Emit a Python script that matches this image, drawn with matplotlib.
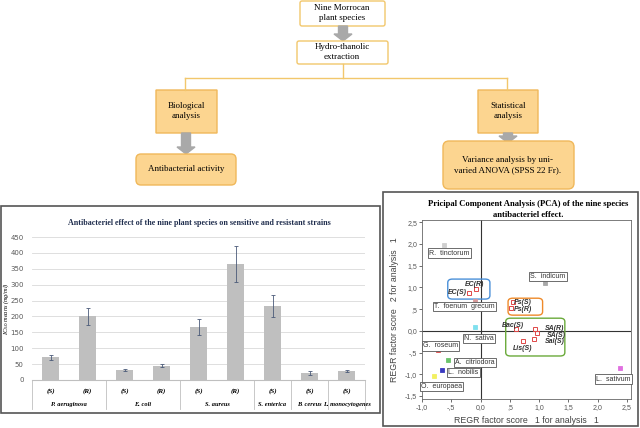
import matplotlib
matplotlib.use("Agg")
import matplotlib.pyplot as plt
import matplotlib.transforms as mtransforms
from matplotlib.patches import FancyBboxPatch, Rectangle, FancyArrow
from matplotlib.lines import Line2D

# ---- données : effet antibactérien (IC50) ----
strain_tags = ['(S)', '(R)', '(S)', '(R)', '(S)', '(R)', '(S)', '(S)', '(S)']
bacteria = ['P. aeruginosa', 'E. coli', 'S. aureus', 'S. enterica', 'B. cereus', 'L. monocytogenes']
bacteria_size = [2, 2, 2, 1, 1, 1]
ic50_mean = [72, 200, 32, 45, 167, 365, 233, 22, 28]
ic50_err = [8, 27, 4, 5, 25, 57, 35, 5, 4]

# ---- données : ACP ----
species = ['R. tinctorum', 'S. indicum', 'T. foenum grecum', 'N. sativa', 'G. roseum',
           'A. citriodora', 'L. nobilis', 'O. europaea', 'L. sativum']
species_x = [-0.62, 1.10, -0.10, -0.10, -0.73, -0.55, -0.65, -0.80, 2.38]
species_y = [1.98, 1.10, 0.68, 0.08, -0.45, -0.68, -0.90, -1.05, -0.85]
strains = ['EC(R)', 'EC(S)', 'Ps(S)', 'Ps(R)', 'Bac(S)', 'SA(R)', 'SA(S)', 'Sal(S)', 'Lis(S)']
strains_x = [-0.07, -0.20, 0.55, 0.52, 0.60, 0.93, 0.97, 0.92, 0.73]
strains_y = [0.97, 0.88, 0.67, 0.52, 0.05, 0.03, -0.04, -0.18, -0.24]

# style
species_colors = ['#cfcfcf', '#a8a8a8', '#d89a9a', '#7fe0ee', '#e05050',
                  '#6cc46c', '#3a3ac0', '#f2f060', '#e070e0']
species_lab_pos = [(-0.53, 1.79), (1.15, 1.24), (-0.28, 0.55), (-0.02, -0.17), (-0.68, -0.35),
                   (-0.10, -0.74), (-0.29, -0.97), (-0.67, -1.29), (2.27, -1.11)]
strains_lab_pos = [(-0.11, 1.07), (-0.40, 0.87), (0.72, 0.64), (0.72, 0.50), (0.55, 0.13),
                   (1.27, 0.06), (1.30, -0.10), (1.27, -0.24), (0.72, -0.40)]

serif = 'Liberation Serif'
sans = 'Liberation Sans'

fig = plt.figure(figsize=(6.4, 4.28), dpi=100)
fig.patch.set_facecolor('white')
# coordonnées en pixels (origine en haut à gauche)
px = mtransforms.Affine2D().scale(1 / 640, -1 / 428).translate(0, 1) + fig.transFigure


def box(x0, y0, x1, y1, fc, ec, r=2):
    p = FancyBboxPatch((x0, y0), x1 - x0, y1 - y0, boxstyle=f"round,pad=0,rounding_size={r}",
                       fc=fc, ec=ec, lw=1.0, transform=px)
    fig.add_artist(p)


def arrow(x, y0, y1):
    a = FancyArrow(x, y0, 0, y1 - y0, width=9, head_width=18, head_length=7,
                   length_includes_head=True, color='#a9a9a9', transform=px)
    fig.add_artist(a)


def ftext(x, y, s, **kw):
    fig.text(x, y, s, transform=px, ha='center', va='center', family=serif, **kw)


# ---- organigramme ----
line_c = '#f2c76c'
for xs, ys in [([343, 343], [64, 78]), ([185, 507], [78, 78]),
               ([185, 185], [78, 90]), ([507, 507], [78, 90])]:
    fig.add_artist(Line2D(xs, ys, color=line_c, lw=1, transform=px))

box(300, 1, 385, 26, 'white', '#f2c76c')
ftext(342, 13, 'Nine Morrocan\nplant species', fontsize=6.5, linespacing=1.3)
arrow(343, 26, 41)
box(297, 41, 388, 64, 'white', '#f2c76c')
ftext(342, 52, 'Hydro-thanolic\nextraction', fontsize=6.5, linespacing=1.3)

box(156, 90, 217, 133, '#fcd590', '#f0b85a', r=0)
ftext(186, 111, 'Biological\nanalysis', fontsize=6.5, linespacing=1.3)
arrow(186, 133, 154)
box(136, 154, 236, 185, '#fcd590', '#f0b85a', r=5)
ftext(186, 169, 'Antibacterial activity', fontsize=6.5)

box(478, 90, 538, 133, '#fcd590', '#f0b85a', r=0)
ftext(508, 111, 'Statistical\nanalysis', fontsize=6.5, linespacing=1.3)
arrow(508, 133, 143)
box(443, 141, 574, 189, '#fcd590', '#f0b85a', r=6)
ftext(508, 165, 'Variance analysis by uni-\nvaried ANOVA (SPSS 22 Fr).', fontsize=6.5, linespacing=1.4)

# ---- cadre des deux panneaux ----
fig.add_artist(Rectangle((1, 206), 379, 207, fc='none', ec='#555555', lw=1.2, transform=px))
fig.add_artist(Rectangle((383, 192), 255, 234, fc='none', ec='#555555', lw=1.2, transform=px))

# ---- histogramme ----
ax = fig.add_axes([32 / 640, 1 - 380 / 428, 333 / 640, 143 / 428])
xpos = list(range(len(ic50_mean)))
ax.bar(xpos, ic50_mean, width=0.46, color='#bfbfbf', zorder=2)
ax.errorbar(xpos, ic50_mean, yerr=ic50_err, fmt='none', ecolor='#4a5a78', elinewidth=0.6,
            capsize=1.5, capthick=0.6, zorder=3)
ax.set_xlim(-0.5, len(ic50_mean) - 0.5)
ax.set_ylim(0, 450)
ax.set_yticks(range(0, 451, 50))
ax.tick_params(axis='y', length=0, labelsize=5, labelcolor='#595959', pad=6)
ax.tick_params(axis='x', length=0, labelbottom=False)
ax.grid(axis='y', color='#d9d9d9', lw=0.6, zorder=0)
for s in ['top', 'right', 'left']:
    ax.spines[s].set_visible(False)
ax.spines['bottom'].set_color('#bfbfbf')
ax.set_ylabel('IC$_{50}$ means (mg/ml)', fontsize=4.5, style='italic', family=serif)
ax.yaxis.set_label_coords(-0.062, 0.5)

trans = mtransforms.blended_transform_factory(ax.transData, ax.transAxes)
for i, t in enumerate(strain_tags):
    ax.text(i, -0.08, t, transform=trans, ha='center', va='center', fontsize=5,
            style='italic', weight='bold', family=serif)
edges = [-0.5]
start = -0.5
for name, n in zip(bacteria, bacteria_size):
    ax.text(start + n / 2, -0.17, name, transform=trans, ha='center', va='center', fontsize=4.6,
            style='italic', weight='bold', family=serif)
    start += n
    edges.append(start)
for e in edges:
    ax.plot([e, e], [0, -0.2], transform=trans, color='#bfbfbf', lw=0.6, clip_on=False)

ftext(199, 223, 'Antibacteriel effect of the nine plant species on sensitive and resistant strains',
      fontsize=5.8, weight='bold', color='#1f2d4d')

# ---- ACP ----
ax2 = fig.add_axes([422 / 640, 1 - 399 / 428, 209 / 640, 179 / 428])
ax2.set_xlim(-1.0, 2.57)
ax2.set_ylim(-1.57, 2.55)
ax2.axhline(0, color='#333333', lw=0.8, zorder=1)
ax2.axvline(0, color='#333333', lw=0.8, zorder=1)
xt = [-1.0, -0.5, 0.0, 0.5, 1.0, 1.5, 2.0, 2.5]
yt = [-1.5, -1.0, -0.5, 0.0, 0.5, 1.0, 1.5, 2.0, 2.5]


def fmt(v):
    s = f'{v:.1f}'.replace('.', ',')
    return s.replace('0,5', ',5')


ax2.set_xticks(xt)
ax2.set_xticklabels([fmt(v) for v in xt])
ax2.set_yticks(yt)
ax2.set_yticklabels([fmt(v) for v in yt])
ax2.tick_params(labelsize=5, labelcolor='#555555', length=2, color='#555555', width=0.6, pad=1.5)
for lab in ax2.get_xticklabels() + ax2.get_yticklabels():
    lab.set_family(sans)
for s in ax2.spines.values():
    s.set_color('#666666')
    s.set_linewidth(0.6)
ax2.set_xlabel('REGR factor score   1 for analysis   1', fontsize=6.3, color='#444444',
               family=sans, labelpad=4)
ax2.set_ylabel('REGR factor score   2 for analysis   1', fontsize=6.3, color='#444444',
               family=sans, labelpad=4)

for i, name in enumerate(species):
    ax2.plot(species_x[i], species_y[i], 's', ms=3, mfc=species_colors[i], mec=species_colors[i],
             mew=0.6, zorder=3)
    lx, ly = species_lab_pos[i]
    ax2.text(lx, ly, name.replace(' ', '  '), ha='center', va='center', fontsize=5, family=sans,
             color='#333333', clip_on=False, zorder=4,
             bbox=dict(boxstyle='square,pad=0.15', fc='white', ec='#555555', lw=0.6))

for i, name in enumerate(strains):
    ax2.plot(strains_x[i], strains_y[i], 's', ms=2.5, mfc='none', mec='#e04848', mew=0.7, zorder=3)
    lx, ly = strains_lab_pos[i]
    ax2.text(lx, ly, name, ha='center', va='center', fontsize=5, family=sans, weight='bold',
             style='italic', color='#333333', zorder=4)

# regroupements
for (x0, y0, x1, y1), c in [((-0.56, 0.73, 0.16, 1.19), '#4a90d9'),
                            ((0.47, 0.36, 1.06, 0.75), '#ee8a2a'),
                            ((0.43, -0.58, 1.44, 0.29), '#6aaa3a')]:
    ax2.add_patch(FancyBboxPatch((x0, y0), x1 - x0, y1 - y0,
                                 boxstyle='round,pad=0,rounding_size=0.08',
                                 fc='none', ec=c, lw=1.0, zorder=2))

ftext(528, 204, 'Pricipal Component Analysis (PCA) of the nine species', fontsize=6.2,
      weight='bold')
ftext(528, 215, 'antibacteriel effect.', fontsize=6.2, weight='bold')

plt.savefig('out.png', dpi=100)
